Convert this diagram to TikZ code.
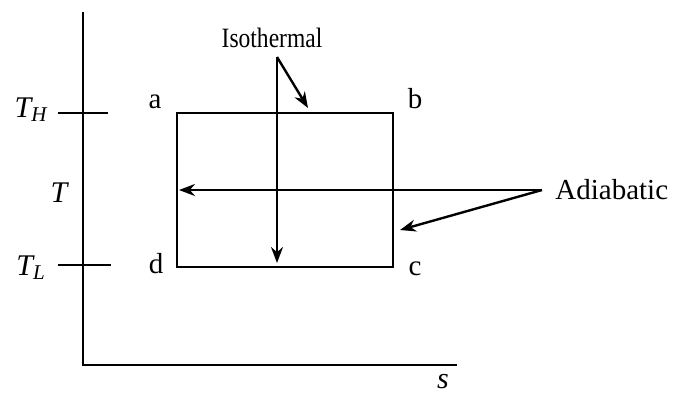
\documentclass[tikz,border=0pt]{standalone}
\usepackage{fontspec}
\setmainfont{Liberation Serif}
\usetikzlibrary{arrows.meta}

\begin{document}
\begin{tikzpicture}[
  x=0.5pt, y=-0.5pt,
  ax/.style={line width=1.2pt},
  pt/.style={font=\fontsize{14.5}{17}\selectfont, inner sep=0pt, anchor=base},
  tlab/.style={font=\fontsize{15}{17}\selectfont\itshape, inner sep=0pt},
  arr/.style={line width=1.2pt, -{Stealth[length=8pt, width=6pt]}},
]
  \useasboundingbox (0,0) rectangle (678,392);
  % axes
  \coordinate (top) at (83,12);
  \coordinate (o) at (83,365);
  \coordinate (right) at (457,365);
  \draw[ax] (top) -- (o) -- (right);
  \node[tlab, anchor=base] (s) at (443,388) {s};
  % temperatures
  \node[tlab] (TH) at (31,110) {T\textsubscript{H}};
  \node[tlab] (T) at (59,193) {T};
  \node[tlab] (TL) at (31,268) {T\textsubscript{L}};
  \draw[ax] (58,113) -- (108,113);
  \draw[ax] (58,265) -- (111,265);
  % cycle
  \coordinate (ca) at (177,113);
  \coordinate (cc) at (393,267);
  \draw[ax] (ca) rectangle (cc);
  \node[pt] (a) at (155,108) {a};
  \node[pt] (b) at (415,108) {b};
  \node[pt] (c) at (415,275) {c};
  \node[pt] (d) at (156,273) {d};
  % labels
  \node[font=\fontsize{14}{16}\selectfont, inner sep=0pt, anchor=base] (iso) at (272,47) {\scalebox{0.84}[1]{Isothermal}};
  \coordinate (iso0) at (277,57);
  \draw[arr] (iso0) -- (iso0 |- 0,263);
  \draw[arr] (iso0) -- (308,108);
  \node[font=\fontsize{14.5}{17}\selectfont, inner sep=0pt, anchor=west] (adi) at (555,190) {Adiabatic};
  \coordinate (adi0) at (542,190);
  \draw[arr] (adi0) -- (179,190);
  \draw[arr] (adi0) -- (400,230);
\end{tikzpicture}
\end{document}
